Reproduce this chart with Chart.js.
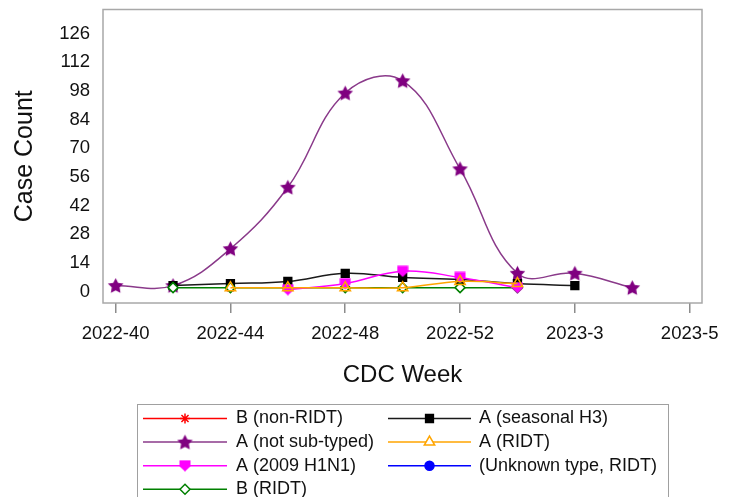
<!DOCTYPE html>
<html>
<head>
<meta charset="utf-8">
<script src="https://cdn.jsdelivr.net/npm/chart.js@4/dist/chart.umd.min.js"></script>
<style>
  html, body { margin: 0; padding: 0; background: #fff; }
  #wrap { width: 735px; height: 497px; }
</style>
</head>
<body>
<div id="wrap"><canvas id="c" width="735" height="497"></canvas></div>
<script>
// ---- data ----
const weekPos = [0, 2, 4, 6, 8, 10, 12, 14, 16, 18];
const tickPos = [0, 4, 8, 12, 16, 20];
const tickLabels = ['2022-40', '2022-44', '2022-48', '2022-52', '2023-3', '2023-5'];
const yTickValues = [0, 14, 28, 42, 56, 70, 84, 98, 112, 126];

const bNonRidt    = [null, null, 2, null, null, null, null, null, null, null];
const aSeasonalH3 = [null, 3, 4, 5, 9, 7, 6, 4, 3, null];
const aNotSubtyped= [3, 3, 21, 51, 97, 103, 60, 9, 9, 2];
const aRidt       = [null, null, 2, 2, 2, 2, 5, 4, null, null];
const a2009H1N1   = [null, null, null, 1, 4, 10, 7, 2, null, null];
const unknownRidt = [null, null, null, null, null, null, null, null, null, null];
const bRidt       = [null, 2, 2, 2, 2, 2, 2, 2, null, null];

const FONT = "'Liberation Sans', Arial, sans-serif";

function pts(vals) {
  return weekPos.map((x, i) => ({ x: x, y: vals[i] }));
}

function makeStar(color, size) {
  const c = document.createElement('canvas');
  c.width = size; c.height = size;
  const g = c.getContext('2d');
  const cx = size / 2, cy = size / 2 + 0.6, R = size / 2 - 0.3, r = R * 0.5;
  g.beginPath();
  for (let i = 0; i < 10; i++) {
    const a = -Math.PI / 2 + i * Math.PI / 5;
    const rad = i % 2 === 0 ? R : r;
    const px = cx + rad * Math.cos(a), py = cy + rad * Math.sin(a);
    if (i === 0) g.moveTo(px, py); else g.lineTo(px, py);
  }
  g.closePath();
  g.fillStyle = color;
  g.fill();
  return c;
}
function makeShield(color, size) {
  const c = document.createElement('canvas');
  c.width = size; c.height = size;
  const g = c.getContext('2d');
  g.beginPath();
  g.moveTo(0.5, 0.5);
  g.lineTo(size - 0.5, 0.5);
  g.lineTo(size - 0.5, size * 0.55);
  g.lineTo(size / 2, size - 0.3);
  g.lineTo(0.5, size * 0.55);
  g.closePath();
  g.fillStyle = color;
  g.fill();
  return c;
}

const starImg = makeStar('#800080', 17);
const shieldImg = makeShield('#ff00ff', 12);

function series(label, vals, line, ptColor, ptFill, style, radius, order) {
  return {
    label: label,
    data: pts(vals),
    borderColor: line,
    borderWidth: 1.5,
    backgroundColor: ptFill,
    pointStyle: style,
    pointRadius: radius,
    pointHoverRadius: radius,
    pointBackgroundColor: ptFill,
    pointBorderColor: ptColor,
    pointBorderWidth: 1.5,
    tension: 0.4,
    fill: false,
    order: order
  };
}

const datasets = [
  series('B (non-RIDT)', bNonRidt, '#ff0000', '#ff0000', '#ff0000', 'star', 5, 6),
  series('A (seasonal H3)', aSeasonalH3, '#1a1a1a', '#000000', '#000000', 'rect', 5.5, 4),
  series('A (not sub-typed)', aNotSubtyped, '#8a3a8a', '#800080', '#800080', starImg, 8, 5),
  series('A (RIDT)', aRidt, '#ffa500', '#ffa500', 'rgba(255,255,255,0)', 'triangle', 6, 0),
  series('A (2009 H1N1)', a2009H1N1, '#ff00ff', '#ff00ff', '#ff00ff', shieldImg, 6, 1),
  series('(Unknown type, RIDT)', unknownRidt, '#0000ff', '#0000ff', '#0000ff', 'circle', 4.5, 3),
  series('B (RIDT)', bRidt, '#008000', '#008000', '#ffffff', 'rectRot', 5, 2)
];

const framePlugin = {
  id: 'frame',
  beforeDatasetsDraw(chart) {
    const a = chart.chartArea, ctx = chart.ctx;
    ctx.save();
    ctx.strokeStyle = '#a8a8a8';
    ctx.lineWidth = 1.5;
    ctx.strokeRect(a.left, a.top, a.right - a.left, a.bottom - a.top);
    ctx.restore();
  }
};

function drawMarker(ctx, ds, x, y) {
  ctx.save();
  ctx.fillStyle = ds.pointBackgroundColor;
  ctx.strokeStyle = ds.pointBorderColor;
  ctx.lineWidth = ds.pointBorderWidth;
  if (Chart.helpers && Chart.helpers.drawPoint) {
    Chart.helpers.drawPoint(ctx, { pointStyle: ds.pointStyle, rotation: 0, radius: ds.pointRadius, borderWidth: ds.pointBorderWidth }, x, y);
  } else if (ds.pointStyle instanceof HTMLCanvasElement) {
    ctx.drawImage(ds.pointStyle, x - ds.pointStyle.width / 2, y - ds.pointStyle.height / 2);
  }
  ctx.restore();
}

const legendPlugin = {
  id: 'customLegend',
  afterDraw(chart) {
    const ctx = chart.ctx;
    const boxL = 137.5, boxT = 404.5, boxR = 668.5;
    ctx.save();
    ctx.strokeStyle = '#a0a0a0';
    ctx.lineWidth = 1;
    ctx.strokeRect(boxL, boxT, boxR - boxL, 120);
    const cols = [{ x0: 143, x1: 227, tx: 236 }, { x0: 388, x1: 471, tx: 479 }];
    const rowY0 = 418.5, rowDy = 23.6;
    const dsets = chart.data.datasets;
    dsets.forEach((ds, i) => {
      const col = cols[i % 2];
      const y = rowY0 + Math.floor(i / 2) * rowDy;
      ctx.strokeStyle = ds.borderColor;
      ctx.lineWidth = 1.5;
      ctx.beginPath();
      ctx.moveTo(col.x0, y);
      ctx.lineTo(col.x1, y);
      ctx.stroke();
      const clean = Object.assign({}, ds);
      if (ds.pointStyle === 'triangle') clean.pointBackgroundColor = '#ffffff';
      drawMarker(ctx, clean, (col.x0 + col.x1) / 2, y);
      ctx.fillStyle = '#111';
      ctx.font = '18px ' + FONT;
      ctx.textAlign = 'left';
      ctx.textBaseline = 'middle';
      ctx.fillText(ds.label, col.tx, y);
    });
    ctx.restore();
  }
};

new Chart(document.getElementById('c'), {
  type: 'line',
  data: { datasets: datasets },
  options: {
    responsive: false,
    animation: false,
    events: [],
    layout: { padding: { top: 9, right: 33, bottom: 102, left: 0 } },
    plugins: { legend: { display: false }, tooltip: { enabled: false } },
    scales: {
      x: {
        type: 'linear',
        min: -0.44,
        max: 20.43,
        afterBuildTicks(scale) { scale.ticks = tickPos.map(v => ({ value: v })); },
        afterFit(scale) { scale.height = 92; scale.paddingLeft = 0; scale.paddingRight = 0; },
        grid: { drawOnChartArea: false, drawTicks: true, tickLength: 10, color: '#8c8c8c', lineWidth: 1.5 },
        border: { display: false },
        ticks: {
          autoSkip: false, maxRotation: 0, padding: 10, color: '#111',
          font: { family: FONT, size: 18.5 },
          callback(v) { const i = tickPos.indexOf(v); return i >= 0 ? tickLabels[i] : ''; }
        },
        title: { display: true, text: 'CDC Week', color: '#111', font: { family: FONT, size: 24 }, padding: { top: 0, bottom: 5 } }
      },
      y: {
        type: 'linear',
        min: -5.5,
        max: 137.8,
        afterBuildTicks(scale) { scale.ticks = yTickValues.map(v => ({ value: v })); },
        afterFit(scale) { scale.width = 103; scale.paddingTop = 0; scale.paddingBottom = 0; },
        grid: { display: false, drawTicks: false },
        border: { display: false },
        ticks: { padding: 13, color: '#111', font: { family: FONT, size: 18.5 } },
        title: { display: true, text: 'Case Count', color: '#111', font: { family: FONT, size: 25 }, padding: { top: 10, bottom: 0 } }
      }
    }
  },
  plugins: [framePlugin, legendPlugin]
});
</script>
</body>
</html>
